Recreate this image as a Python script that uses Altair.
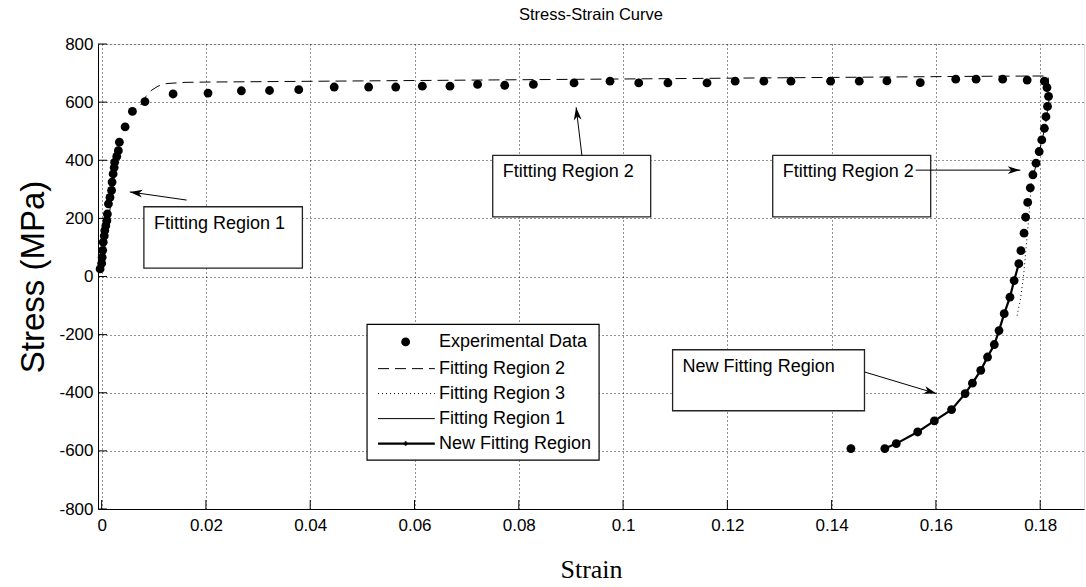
import math
import altair as alt
import pandas as pd

# ---------------- data ----------------
exp_strain = [
    -0.0003, 0.0000, 0.0001, 0.0002, 0.0003, 0.0005, 0.0006, 0.0008, 0.0010, 0.0011, 0.0013, 0.0016,
    0.0019, 0.0020, 0.0022, 0.0024, 0.0025, 0.0029, 0.0032, 0.0034, 0.0045, 0.0059, 0.0083,
    0.0137, 0.0204, 0.0268, 0.0322, 0.0378, 0.0446, 0.0512, 0.0564, 0.0615, 0.0668,
    0.0721, 0.0773, 0.0828, 0.0906, 0.0975, 0.1030, 0.1086, 0.1161, 0.1215, 0.1270,
    0.1322, 0.1398, 0.1453, 0.1506, 0.1570, 0.1638, 0.1677, 0.1728, 0.1775, 0.1808,
    0.1813, 0.1816, 0.1814, 0.1811, 0.1808, 0.1803, 0.1798, 0.1792, 0.1786, 0.1781,
    0.1776, 0.1772, 0.1769, 0.1763, 0.1759, 0.1750, 0.1742, 0.1731, 0.1721, 0.1712,
    0.1699, 0.1686, 0.1670, 0.1656, 0.1630, 0.1597, 0.1565, 0.1524, 0.1502, 0.1437]
exp_stress = [
    26, 45, 66, 90, 118, 140, 158, 175, 192, 215, 250, 272,
    296, 325, 353, 375, 393, 413, 433, 462, 515, 568, 602,
    628, 631, 639, 640, 643, 652, 652, 652, 655, 655,
    661, 658, 661, 666, 672, 666, 666, 666, 672, 672,
    672, 672, 672, 673, 667, 679, 679, 679, 676, 672,
    650, 620, 585, 550, 510, 470, 430, 390, 350, 305,
    255, 204, 149, 89, 44, -14, -71, -128, -186, -234,
    -277, -323, -367, -403, -458, -497, -535, -575, -592, -592]

fit2_strain = [0.0075, 0.0085, 0.0095, 0.0108, 0.0125, 0.016, 0.02, 0.05, 0.08, 0.11, 0.14, 0.17,
               0.1815, 0.1818, 0.1810, 0.1797, 0.1786]
fit2_stress = [590, 620, 640, 655, 664, 668, 669, 673, 677, 681, 685, 689,
               690, 620, 520, 420, 340]

fit3_strain = [0.1783, 0.1778, 0.1773, 0.1768, 0.1762, 0.1755]
fit3_stress = [320, 200, 100, 0, -80, -140]

fit1_strain = [0.0000, 0.0034]
fit1_stress = [20, 470]

new_strain = [0.1502, 0.1524, 0.1565, 0.1597, 0.1630, 0.1656, 0.1670, 0.1686, 0.1699, 0.1712,
              0.1721, 0.1731, 0.1742, 0.1750, 0.1759]
new_stress = [-592, -575, -535, -497, -458, -403, -367, -323, -277, -234,
              -186, -128, -71, -14, 44]

x_ticks = [0, 0.02, 0.04, 0.06, 0.08, 0.1, 0.12, 0.14, 0.16, 0.18]
y_ticks = [-800, -600, -400, -200, 0, 200, 400, 600, 800]

legend_labels = ["Experimental Data", "Fitting Region 2", "Fitting Region 3",
                 "Fitting Region 1", "New Fitting Region"]

# annotation boxes: label, x-left, x-right, y-top, y-bottom (data units)
box_labels = ["Ftitting Region 1", "Ftitting Region 2", "Ftitting Region 2", "New Fitting Region"]
box_x1 = [0.0081, 0.0750, 0.1287, 0.1095]
box_x2 = [0.0385, 0.1053, 0.1590, 0.1463]
box_y1 = [240, 417, 417, -252]
box_y2 = [29, 205, 205, -462]

# arrows: start -> tip (data units)
arr_x1 = [0.0163, 0.0921, 0.1561, 0.1464]
arr_y1 = [263, 417, 366, -329]
arr_x2 = [0.0054, 0.0910, 0.1762, 0.1601]
arr_y2 = [291, 582, 366, -403]

# ---------------- layout ----------------
X_DOMAIN = [-0.0007, 0.1884]
Y_DOMAIN = [-800, 800]
W, H = 986, 465
FONT = "Liberation Sans"
FS = 18

xs = alt.Scale(domain=X_DOMAIN, nice=False, zero=False)
ys = alt.Scale(domain=Y_DOMAIN, nice=False, zero=False)
ux = (X_DOMAIN[1] - X_DOMAIN[0]) / W   # data units per px
uy = (Y_DOMAIN[1] - Y_DOMAIN[0]) / H


def X(field, **kw):
    return alt.X(field, type="quantitative", scale=xs, **kw)


def Y(field, **kw):
    return alt.Y(field, type="quantitative", scale=ys, **kw)


x_axis = alt.Axis(values=x_ticks, labelExpr="'' + datum.value", grid=True, gridDash=[1, 3],
                  gridColor="black", gridOpacity=0.85, gridWidth=1, ticks=False,
                  domainColor="black", domainWidth=1, labelFont=FONT, labelFontSize=17,
                  labelColor="black", labelPadding=8, title="Strain",
                  titleFont="Liberation Serif", titleFontSize=26, titleFontWeight="normal",
                  titleColor="black", titleY=60, titleBaseline="middle")
y_axis = alt.Axis(values=y_ticks, labelExpr="'' + datum.value", grid=True, gridDash=[1, 3],
                  gridColor="black", gridOpacity=0.85, gridWidth=1, ticks=False,
                  domainColor="black", domainWidth=1, labelFont=FONT, labelFontSize=17,
                  labelColor="black", labelPadding=5, title="Stress (MPa)",
                  titleFont=FONT, titleFontSize=33, titleFontWeight="normal", titleColor="black",
                  titleAngle=270, titleX=-65, titleY=H / 2, titleAlign="center",
                  titleBaseline="middle")

exp_df = pd.DataFrame({"strain": exp_strain, "stress": exp_stress})
points = alt.Chart(exp_df).mark_circle(size=78, color="black", opacity=1).encode(
    x=X("strain", axis=x_axis), y=Y("stress", axis=y_axis))


def line_df(sx, sy):
    return pd.DataFrame({"strain": sx, "stress": sy, "i": list(range(len(sx)))})


fit2 = alt.Chart(line_df(fit2_strain, fit2_stress)).mark_line(
    color="black", strokeWidth=1, strokeDash=[11, 6]).encode(
    x=X("strain"), y=Y("stress"), order="i:Q")
fit3 = alt.Chart(line_df(fit3_strain, fit3_stress)).mark_line(
    color="black", strokeWidth=1, strokeDash=[1, 3]).encode(
    x=X("strain"), y=Y("stress"), order="i:Q")
fit1 = alt.Chart(line_df(fit1_strain, fit1_stress)).mark_line(
    color="black", strokeWidth=1).encode(x=X("strain"), y=Y("stress"), order="i:Q")
newfit = alt.Chart(line_df(new_strain, new_stress)).mark_line(
    color="black", strokeWidth=2.2, point=alt.OverlayMarkDef(shape="cross", size=20, color="black")
).encode(x=X("strain"), y=Y("stress"), order="i:Q")

# inner ticks (MATLAB style)
TICK = 9
xt_df = pd.DataFrame({"x": x_ticks, "y": Y_DOMAIN[0], "y2": Y_DOMAIN[0] + TICK * uy})
yt_df = pd.DataFrame({"y": y_ticks, "x": X_DOMAIN[0], "x2": X_DOMAIN[0] + TICK * ux})
xticks = alt.Chart(xt_df).mark_rule(color="black", strokeWidth=1).encode(
    x=X("x"), y=Y("y"), y2="y2")
yticks = alt.Chart(yt_df).mark_rule(color="black", strokeWidth=1).encode(
    y=Y("y"), x=X("x"), x2="x2")

# annotation boxes
box_df = pd.DataFrame({"label": box_labels, "x1": box_x1, "x2": box_x2, "y1": box_y1, "y2": box_y2})
box_df["tx"] = box_df["x1"] + 10 * ux
box_df["ty"] = box_df["y1"] - 17 * uy
boxes = alt.Chart(box_df).mark_rect(fill="white", stroke="#222", strokeWidth=1.3).encode(
    x=X("x1"), x2="x2", y=Y("y1"), y2="y2")
box_text = alt.Chart(box_df).mark_text(align="left", baseline="middle", font=FONT, fontSize=FS,
                                       color="black").encode(x=X("tx"), y=Y("ty"), text="label:N")

arr_df = pd.DataFrame({"x1": arr_x1, "y1": arr_y1, "x2": arr_x2, "y2": arr_y2})
arr_df["angle"] = [
    math.degrees(math.atan2(-(b2 - b1) / uy, (a2 - a1) / ux)) % 360
    for a1, b1, a2, b2 in zip(arr_x1, arr_y1, arr_x2, arr_y2)]
arrow_lines = alt.Chart(arr_df).mark_rule(color="black", strokeWidth=1).encode(
    x=X("x1"), y=Y("y1"), x2="x2", y2="y2")
ARROW = "M0,0 L-2,-0.62 L-1.45,0 L-2,0.62 Z"
arrow_heads = alt.Chart(arr_df).mark_point(shape=ARROW, filled=True, size=160, color="black",
                                           opacity=1).encode(
    x=X("x2"), y=Y("y2"), angle=alt.Angle("angle:Q", scale=None))

# legend (drawn in the plot)
LEG_X1, LEG_X2, LEG_Y1, LEG_Y2 = 0.0509, 0.0954, -165, -632
leg_rows = [-225, -317, -403, -489, -575]
sym_x1, sym_x2, sym_mid, txt_x = 0.0530, 0.0639, 0.0583, 0.0647
leg_box = alt.Chart(pd.DataFrame({"x1": [LEG_X1], "x2": [LEG_X2], "y1": [LEG_Y1], "y2": [LEG_Y2]})
                    ).mark_rect(fill="white", stroke="black", strokeWidth=1.2).encode(
    x=X("x1"), x2="x2", y=Y("y1"), y2="y2")
leg_text = alt.Chart(pd.DataFrame({"label": legend_labels, "x": txt_x, "y": leg_rows})).mark_text(
    align="left", baseline="middle", font=FONT, fontSize=FS, color="black").encode(
    x=X("x"), y=Y("y"), text="label:N")
leg_dot = alt.Chart(pd.DataFrame({"x": [sym_mid], "y": [leg_rows[0]]})).mark_circle(
    size=78, color="black", opacity=1).encode(x=X("x"), y=Y("y"))


def leg_seg(row, **style):
    d = pd.DataFrame({"x1": [sym_x1], "x2": [sym_x2], "y": [leg_rows[row]]})
    return alt.Chart(d).mark_rule(color="black", **style).encode(x=X("x1"), x2="x2", y=Y("y"))


leg_l2 = leg_seg(1, strokeWidth=1, strokeDash=[11, 6])
leg_l3 = leg_seg(2, strokeWidth=1, strokeDash=[1, 3])
leg_l1 = leg_seg(3, strokeWidth=1)
leg_l4 = leg_seg(4, strokeWidth=2.2)
leg_cross = alt.Chart(pd.DataFrame({"x": [sym_mid], "y": [leg_rows[4]]})).mark_point(
    shape="cross", size=20, filled=True, color="black", opacity=1).encode(x=X("x"), y=Y("y"))

chart = alt.layer(
    points, fit2, fit3, fit1, newfit, xticks, yticks,
    boxes, box_text, arrow_lines, arrow_heads,
    leg_box, leg_l2, leg_l3, leg_l1, leg_l4, leg_cross, leg_dot, leg_text,
).properties(
    width=W, height=H,
    title=alt.TitleParams("Stress-Strain Curve", font=FONT, fontSize=16.5, fontWeight="normal",
                          color="black", anchor="middle", offset=12),
    padding={"left": 98, "top": 44, "right": 2, "bottom": 78},
    autosize=alt.AutoSizeParams(type="none"),
).configure_view(stroke=None).configure(background="white")

chart.save("out.html", embed_options={"renderer": "svg", "actions": False})
